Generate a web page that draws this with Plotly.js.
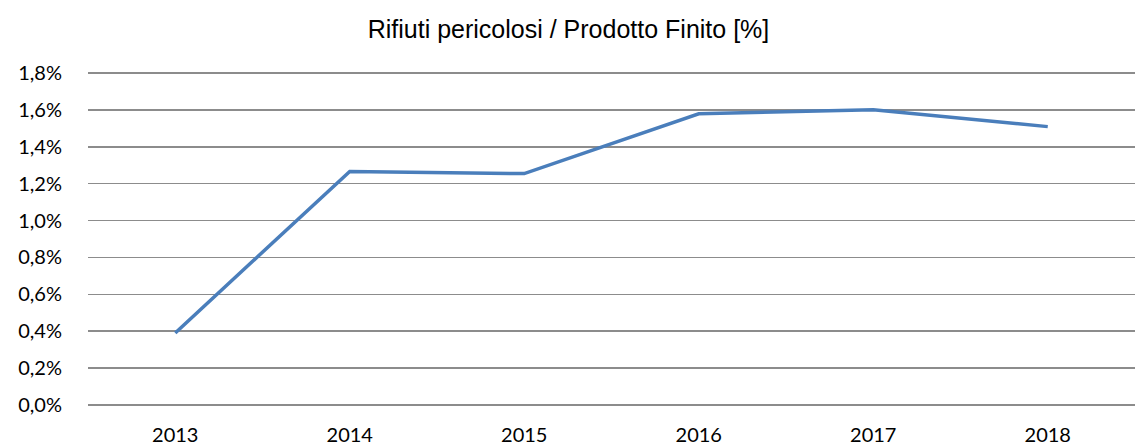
<!DOCTYPE html>
<html>
<head>
<meta charset="utf-8">
<script src="https://cdn.plot.ly/plotly-3.0.1.min.js"></script>
<style>
  html, body { margin: 0; padding: 0; background: #fff; }
  #chart { width: 1137px; height: 448px; }
</style>
</head>
<body>
<div id="chart"></div>
<script>
var anni = ["2013", "2014", "2015", "2016", "2017", "2018"];
var rifiutiPerc = [0.39, 1.267, 1.255, 1.58, 1.602, 1.51];
var yTicks = [0, 0.2, 0.4, 0.6, 0.8, 1.0, 1.2, 1.4, 1.6, 1.8];
var yTickLabels = ["0,0%", "0,2%", "0,4%", "0,6%", "0,8%", "1,0%", "1,2%", "1,4%", "1,6%", "1,8%"];

var data = [{
  x: anni,
  y: rifiutiPerc,
  mode: "lines",
  type: "scatter",
  line: {color: "#4a7ebb", width: 3.5}
}];

var layout = {
  width: 1137,
  height: 448,
  margin: {l: 88, r: 2, t: 71, b: 41},
  paper_bgcolor: "#fff",
  plot_bgcolor: "#fff",
  showlegend: false,
  title: {
    text: "Rifiuti pericolosi / Prodotto Finito [%]",
    font: {family: "Liberation Sans, Arial, sans-serif", size: 25, color: "#000"},
    x: 0.5,
    xanchor: "center",
    y: 0.935,
    yanchor: "middle"
  },
  xaxis: {
    type: "category",
    range: [-0.5, 5.5],
    showgrid: false,
    zeroline: false,
    showline: false,
    ticks: "outside",
    ticklen: 10,
    tickcolor: "rgba(0,0,0,0)",
    tickfont: {family: "Lato, Carlito, sans-serif", size: 20, color: "#000"}
  },
  yaxis: {
    range: [-0.012, 1.812],
    tickmode: "array",
    tickvals: yTicks,
    ticktext: yTickLabels,
    showgrid: true,
    gridcolor: "#8c8c8c",
    gridwidth: 1.5,
    zeroline: false,
    showline: false,
    ticks: "outside",
    ticklen: 21,
    tickcolor: "rgba(0,0,0,0)",
    tickfont: {family: "Lato, Carlito, sans-serif", size: 20, color: "#000"}
  }
};

Plotly.newPlot("chart", data, layout, {staticPlot: true, displayModeBar: false});
</script>
</body>
</html>
